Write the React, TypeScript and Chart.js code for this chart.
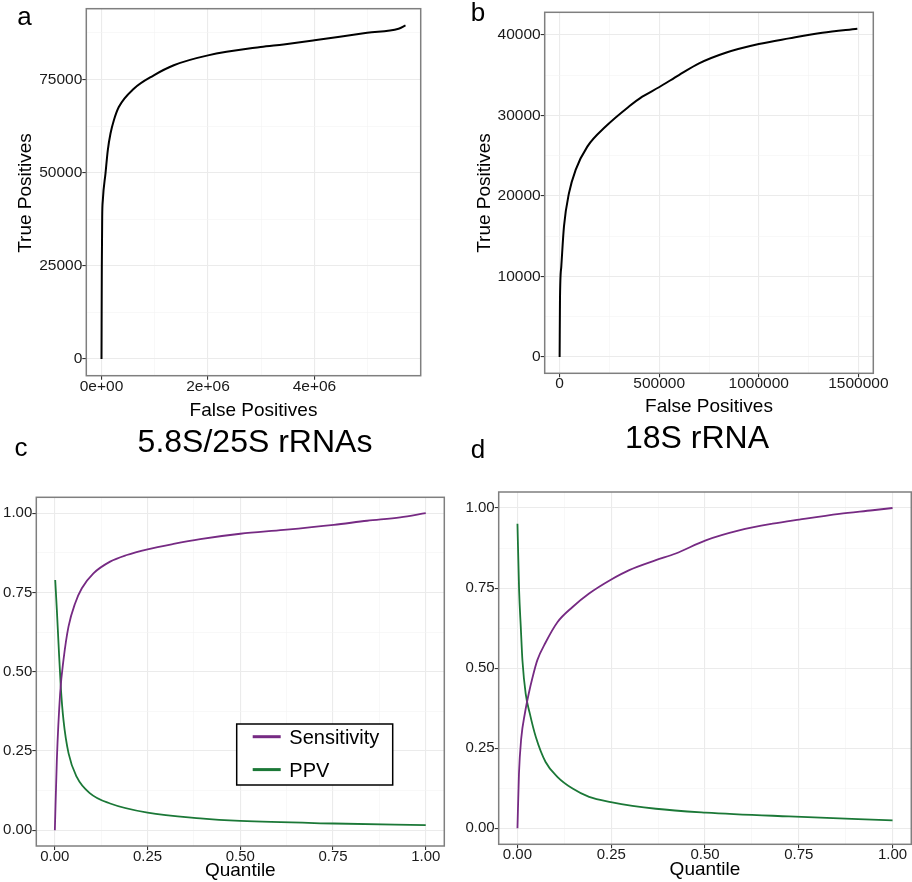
import React, { useEffect, useRef } from 'react';
import { Chart, registerables } from 'chart.js';

Chart.register(...registerables);

const FONT = '"Liberation Sans", Arial, Helvetica, sans-serif';
const PURPLE = '#762a83';
const GREEN = '#1b7837';

// ---------- Panel a: 5.8S/25S rRNAs ----------
const aFalsePositives = [0, 6000, 13000, 25000, 75000, 118000, 169000, 231000, 325000, 607000, 982000, 1358000, 2000000, 2990000, 3420000, 4000000, 4990000, 5580000, 5710000];
const aTruePositives = [0, 24800, 38000, 42600, 49800, 56000, 60500, 64000, 67600, 72500, 76100, 78800, 81450, 83700, 84400, 85500, 87500, 88600, 89500];
const aXTicks = [0, 2000000, 4000000];
const aXTickLabels = ['0e+00', '2e+06', '4e+06'];
const aXMinor = [1000000, 3000000, 5000000];
const aYTicks = [0, 25000, 50000, 75000];
const aYTickLabels = ['0', '25000', '50000', '75000'];
const aYMinor = [12500, 37500, 62500, 87500];

// ---------- Panel b: 18S rRNA ----------
const bFalsePositives = [0, 1700, 8400, 21800, 46900, 80400, 139000, 231000, 348000, 415000, 499000, 599000, 700000, 834000, 1000000, 1152000, 1319000, 1495000];
const bTruePositives = [0, 7100, 11240, 16200, 20330, 23220, 26110, 28600, 31080, 32310, 33480, 35000, 36450, 37770, 38850, 39550, 40250, 40750];
const bXTicks = [0, 500000, 1000000, 1500000];
const bXTickLabels = ['0', '500000', '1000000', '1500000'];
const bXMinor = [250000, 750000, 1250000];
const bYTicks = [0, 10000, 20000, 30000, 40000];
const bYTickLabels = ['0', '10000', '20000', '30000', '40000'];
const bYMinor = [5000, 15000, 25000, 35000];

// ---------- Panel c ----------
const cSensQuantile = [0, 0.0054, 0.0143, 0.0233, 0.0368, 0.0548, 0.0728, 0.104, 0.149, 0.194, 0.25, 0.32, 0.392, 0.5, 0.617, 0.752, 0.842, 0.931, 1.0];
const cSensitivity = [0, 0.221, 0.432, 0.537, 0.642, 0.716, 0.763, 0.81, 0.847, 0.868, 0.886, 0.903, 0.918, 0.935, 0.947, 0.963, 0.976, 0.987, 1.0];
const cPpvQuantile = [0.001, 0.0054, 0.0099, 0.016, 0.0233, 0.037, 0.059, 0.095, 0.149, 0.25, 0.392, 0.5, 0.752, 1.0];
const cPpv = [0.789, 0.695, 0.589, 0.452, 0.347, 0.242, 0.168, 0.116, 0.084, 0.055, 0.037, 0.029, 0.021, 0.016];

// ---------- Panel d ----------
const dSensQuantile = [0, 0.004, 0.01, 0.02, 0.03, 0.04, 0.053, 0.075, 0.107, 0.147, 0.191, 0.249, 0.298, 0.369, 0.422, 0.502, 0.591, 0.68, 0.751, 0.858, 0.947, 1.0];
const dSensitivity = [0, 0.17, 0.28, 0.36, 0.42, 0.47, 0.525, 0.58, 0.644, 0.691, 0.733, 0.776, 0.806, 0.837, 0.858, 0.899, 0.93, 0.951, 0.964, 0.982, 0.993, 1.0];
const dPpvQuantile = [0, 0.0044, 0.0089, 0.0133, 0.022, 0.033, 0.049, 0.075, 0.107, 0.147, 0.191, 0.249, 0.369, 0.502, 0.724, 1.0];
const dPpv = [0.951, 0.743, 0.628, 0.524, 0.42, 0.358, 0.285, 0.207, 0.16, 0.124, 0.098, 0.082, 0.061, 0.049, 0.037, 0.025];

const qTicks = [0, 0.25, 0.5, 0.75, 1];
const qTickLabels = ['0.00', '0.25', '0.50', '0.75', '1.00'];
const qMinor = [0.125, 0.375, 0.625, 0.875];

const legendLabels = ['Sensitivity', 'PPV'];

// ---------- layout ----------
const OFF = 20;
const CW = 912 + 2 * OFF;
const CH = 882 + 2 * OFF;
const YW = 56;
const XH = 30;

type Box = { left: number; top: number; right: number; bottom: number };

function pts(xs: number[], ys: number[]) {
  return xs.map((x, i) => ({ x, y: ys[i] }));
}

function axis(min: number, max: number, major: number[], labels: string[], minor: number[], fontSize: number, isX: boolean) {
  const all = [...major, ...minor].sort((p, q) => p - q);
  const idx = (v: number) => major.findIndex((m) => Math.abs(m - v) <= 1e-9 * Math.max(1, Math.abs(m)));
  const isMajor = (ctx: any) => ctx && ctx.tick && idx(ctx.tick.value) >= 0;
  return {
    type: 'linear',
    min,
    max,
    afterBuildTicks: (s: any) => {
      s.ticks = all.map((v) => ({ value: v }));
    },
    afterFit: (s: any) => {
      if (isX) s.height = XH;
      else s.width = YW;
    },
    grid: {
      color: (ctx: any) => (isMajor(ctx) ? '#ebebeb' : '#f4f4f4'),
      lineWidth: (ctx: any) => (isMajor(ctx) ? 1.1 : 0.6),
      tickColor: (ctx: any) => (isMajor(ctx) ? '#333333' : 'rgba(0,0,0,0)'),
      tickLength: 4,
      tickWidth: 1.1,
      drawTicks: true,
    },
    border: { display: false },
    ticks: {
      autoSkip: false,
      maxRotation: 0,
      minRotation: 0,
      padding: 0,
      color: '#1a1a1a',
      font: { family: FONT, size: fontSize, lineHeight: 0.875 },
      callback: (value: number) => {
        const i = idx(value);
        return i >= 0 ? labels[i] : '';
      },
    },
  };
}

const framePlugin = {
  id: 'frame',
  afterDatasetsDraw(chart: any) {
    const { ctx, chartArea } = chart;
    ctx.save();
    ctx.strokeStyle = '#7f7f7f';
    ctx.lineWidth = 1.5;
    ctx.strokeRect(chartArea.left, chartArea.top, chartArea.right - chartArea.left, chartArea.bottom - chartArea.top);
    ctx.restore();
  },
};

const legendBoxPlugin = {
  id: 'legendBox',
  afterDraw(chart: any) {
    const ctx = chart.ctx;
    const L = 236.7 + OFF;
    const T = 724 + OFF;
    ctx.save();
    ctx.fillStyle = '#ffffff';
    ctx.fillRect(L, T, 156, 61);
    ctx.strokeStyle = '#000000';
    ctx.lineWidth = 1.5;
    ctx.strokeRect(L, T, 156, 61);
    const rows = [736.7 + OFF, 769.6 + OFF];
    chart.data.datasets.forEach((ds: any, i: number) => {
      ctx.strokeStyle = ds.borderColor;
      ctx.lineWidth = 3;
      ctx.beginPath();
      ctx.moveTo(252.7 + OFF, rows[i]);
      ctx.lineTo(280.7 + OFF, rows[i]);
      ctx.stroke();
      ctx.fillStyle = '#000000';
      ctx.font = `20px ${FONT}`;
      ctx.textBaseline = 'alphabetic';
      ctx.textAlign = 'left';
      ctx.fillText(ds.label, 289.3 + OFF, rows[i] + 7.4);
    });
    ctx.restore();
  },
};

type PanelCfg = {
  box: Box;
  x: any;
  y: any;
  datasets: any[];
  legend?: boolean;
};

const lineStyle = (color: string, width: number) => ({
  borderColor: color,
  backgroundColor: color,
  borderWidth: width,
  pointRadius: 0,
  pointHoverRadius: 0,
  fill: false,
  cubicInterpolationMode: 'monotone',
});

const panelA: PanelCfg = {
  box: { left: 86.3, top: 8.7, right: 420.7, bottom: 375.7 },
  x: axis(-285500, 5995500, aXTicks, aXTickLabels, aXMinor, 15.5, true),
  y: axis(-4475, 93975, aYTicks, aYTickLabels, aYMinor, 15.5, false),
  datasets: [{ label: 'ROC', data: pts(aFalsePositives, aTruePositives), ...lineStyle('#000000', 2) }],
};

const panelB: PanelCfg = {
  box: { left: 544.7, top: 12.3, right: 873.3, bottom: 373.3 },
  x: axis(-75000, 1575000, bXTicks, bXTickLabels, bXMinor, 15.5, true),
  y: axis(-2037.5, 42787.5, bYTicks, bYTickLabels, bYMinor, 15.5, false),
  datasets: [{ label: 'ROC', data: pts(bFalsePositives, bTruePositives), ...lineStyle('#000000', 2) }],
};

const panelC: PanelCfg = {
  box: { left: 36.3, top: 497.3, right: 444.3, bottom: 846 },
  x: axis(-0.05, 1.05, qTicks, qTickLabels, qMinor, 15, true),
  y: axis(-0.05, 1.05, qTicks, qTickLabels, qMinor, 15, false),
  datasets: [
    { label: legendLabels[0], data: pts(cSensQuantile, cSensitivity), ...lineStyle(PURPLE, 1.8) },
    { label: legendLabels[1], data: pts(cPpvQuantile, cPpv), ...lineStyle(GREEN, 1.8) },
  ],
  legend: true,
};

const panelD: PanelCfg = {
  box: { left: 498.7, top: 492, right: 911.3, bottom: 844.3 },
  x: axis(-0.05, 1.05, qTicks, qTickLabels, qMinor, 15, true),
  y: axis(-0.05, 1.05, qTicks, qTickLabels, qMinor, 15, false),
  datasets: [
    { label: legendLabels[0], data: pts(dSensQuantile, dSensitivity), ...lineStyle(PURPLE, 1.8) },
    { label: legendLabels[1], data: pts(dPpvQuantile, dPpv), ...lineStyle(GREEN, 1.8) },
  ],
};

function Panel({ cfg }: { cfg: PanelCfg }) {
  const ref = useRef<HTMLCanvasElement>(null);
  useEffect(() => {
    if (!ref.current) return;
    const b = cfg.box;
    const chart = new Chart(ref.current, {
      type: 'line',
      data: { datasets: cfg.datasets as any },
      options: {
        animation: false,
        responsive: false,
        devicePixelRatio: 1,
        layout: {
          padding: {
            left: b.left + OFF - YW,
            top: b.top + OFF,
            right: CW - (b.right + OFF),
            bottom: CH - (b.bottom + OFF) - XH,
          },
        },
        scales: { x: cfg.x, y: cfg.y } as any,
        plugins: {
          legend: { display: false },
          tooltip: { enabled: false },
        },
        events: [],
      } as any,
      plugins: cfg.legend ? [framePlugin, legendBoxPlugin] : [framePlugin],
    });
    return () => chart.destroy();
  }, [cfg]);
  return (
    <canvas
      ref={ref}
      width={CW}
      height={CH}
      style={{ position: 'absolute', left: -OFF, top: -OFF, width: CW, height: CH }}
    />
  );
}

function Text({ x, baseline, size, text, align = 'center' }: { x: number; baseline: number; size: number; text: string; align?: string }) {
  return (
    <div
      style={{
        position: 'absolute',
        left: x,
        top: baseline - 0.8465 * size,
        fontSize: size,
        lineHeight: `${size}px`,
        fontFamily: FONT,
        color: '#000',
        whiteSpace: 'nowrap',
        transform: align === 'center' ? 'translateX(-50%)' : undefined,
      }}
    >
      {text}
    </div>
  );
}

function VText({ cx, cy, size, text }: { cx: number; cy: number; size: number; text: string }) {
  return (
    <div
      style={{
        position: 'absolute',
        left: cx,
        top: cy,
        fontSize: size,
        lineHeight: `${size}px`,
        fontFamily: FONT,
        color: '#000',
        whiteSpace: 'nowrap',
        transform: 'translate(-50%, -50%) rotate(-90deg)',
      }}
    >
      {text}
    </div>
  );
}

export default function App() {
  return (
    <div style={{ position: 'fixed', left: 0, top: 0, width: 912, height: 882, overflow: 'hidden', background: '#ffffff' }}>
      <Panel cfg={panelA} />
      <Panel cfg={panelB} />
      <Panel cfg={panelC} />
      <Panel cfg={panelD} />

      <Text x={24.5} baseline={25} size={26} text="a" />
      <Text x={478} baseline={21} size={26} text="b" />
      <Text x={21} baseline={456} size={26} text="c" />
      <Text x={478} baseline={458} size={26} text="d" />

      <VText cx={24} cy={192.5} size={19} text="True Positives" />
      <VText cx={482.7} cy={192.8} size={19} text="True Positives" />
      <Text x={253.5} baseline={416} size={19} text="False Positives" />
      <Text x={709} baseline={412} size={19} text="False Positives" />

      <Text x={255} baseline={452.3} size={32} text="5.8S/25S rRNAs" />
      <Text x={697} baseline={447.7} size={32} text="18S rRNA" />

      <Text x={240.3} baseline={876.5} size={19} text="Quantile" />
      <Text x={705} baseline={875} size={19} text="Quantile" />
    </div>
  );
}
